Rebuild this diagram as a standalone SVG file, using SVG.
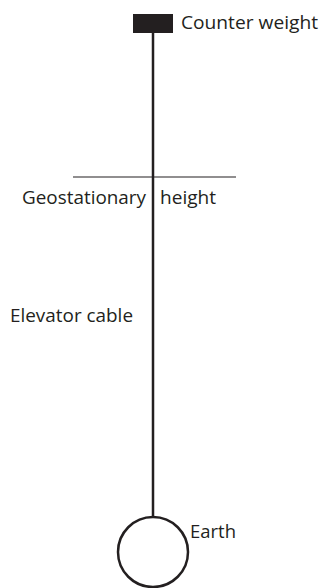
<svg xmlns="http://www.w3.org/2000/svg" width="325" height="588" viewBox="0 0 325 588">
<style>
.t{font-family:"Open Sans","Noto Sans",sans-serif;font-size:18px;fill:#231f20}
.l{stroke:#231f20;fill:none}
</style>
<rect width="325" height="588" fill="#fff"/>
<g id="connectors">
<line class="l" x1="153" y1="33" x2="153" y2="517" stroke-width="2.5"/>
</g>
<g id="counterweight">
<rect x="133" y="14" width="40" height="19" fill="#231f20"/>
<text class="t" x="181" y="29" textLength="137" lengthAdjust="spacingAndGlyphs">Counter weight</text>
</g>
<g id="geostationary">
<line class="l" x1="73" y1="177" x2="236" y2="177" stroke-width="1.2"/>
<text class="t" x="22" y="204" textLength="124" lengthAdjust="spacingAndGlyphs">Geostationary</text>
<text class="t" x="160" y="204" textLength="56" lengthAdjust="spacingAndGlyphs">height</text>
</g>
<g id="cable">
<text class="t" x="10" y="322" textLength="123" lengthAdjust="spacingAndGlyphs">Elevator cable</text>
</g>
<g id="earth">
<circle class="l" cx="153" cy="552" r="35" stroke-width="2.5"/>
<text class="t" x="190" y="538" textLength="46" lengthAdjust="spacingAndGlyphs">Earth</text>
</g>
</svg>
